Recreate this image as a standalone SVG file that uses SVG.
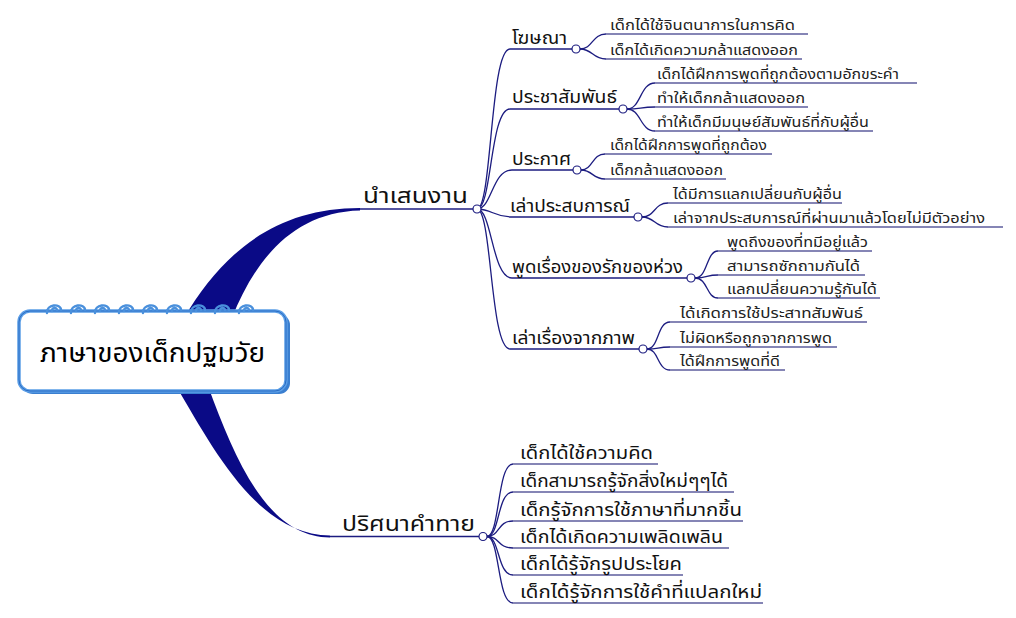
<svg xmlns="http://www.w3.org/2000/svg" width="1016" height="618" viewBox="0 0 1016 618">
<style>
text{font-family:Tahoma,"Noto Sans Thai","Noto Sans","DejaVu Sans",sans-serif;fill:#111}
.conn{fill:none;stroke:#1c1c80;stroke-width:1.3}
.leafline{fill:none;stroke:#5c5c9c;stroke-width:1.6}
.dot{fill:#fff;stroke:#1c1c80;stroke-width:1.2}
.thick{fill:#0a0a86}
.main{font-size:21px}
.sub{font-size:17px}
.leaf{font-size:14.5px;fill:#222}
.leaf2{font-size:18px;fill:#111}
.ring{fill:none;stroke:#4a90dc;stroke-width:2.4;stroke-linecap:round}
</style>
<rect width="1016" height="618" fill="#fff"/>
<g id="connectors">
<path class="thick" d="M184,318 C224,250 278,208 360,208 L360,210.5 C292,212 254,262 232,318 Z"/>
<path class="thick" d="M176,386 C214,450 258,535 330,535.5 L330,537.5 C268,537 236,462 208,386 Z"/>
<path class="conn" d="M360,209 L477,209"/>
<path class="conn" d="M330,536.5 L483,536.5"/>
<path class="conn" d="M477,209 C492,209 490,49 510,49 L572,49"/>
<path class="conn" d="M477,209 C492,209 490,109 510,109 L619,109"/>
<path class="conn" d="M477,209 C492,209 492,170 512,170 L573,170"/>
<path class="conn" d="M477,209 C492,209 494,217 512,217 L634,217"/>
<path class="conn" d="M477,209 C492,209 492,278 512,278 L687,278"/>
<path class="conn" d="M477,209 C492,209 490,349 510,349 L639,349"/>
<g>
<path class="conn" d="M580,49 C593,49 592,34 606,34"/>
<path class="leafline" d="M606,34 L808,34"/>
<path class="conn" d="M580,49 C593,49 592,59 606,59"/>
<path class="leafline" d="M606,59 L802,59"/>
<path class="conn" d="M627,109 C641,109 640,83 655,83"/>
<path class="leafline" d="M655,83 L917,83"/>
<path class="conn" d="M627,109 C641,109 640,107 655,107"/>
<path class="leafline" d="M655,107 L808,107"/>
<path class="conn" d="M627,109 C641,109 640,131 655,131"/>
<path class="leafline" d="M655,131 L873,131"/>
<path class="conn" d="M581,170 C593,170 592,154 605,154"/>
<path class="leafline" d="M605,154 L772,154"/>
<path class="conn" d="M581,170 C593,170 592,179 605,179"/>
<path class="leafline" d="M605,179 L726,179"/>
<path class="conn" d="M642,217 C655,217 654,203 668,203"/>
<path class="leafline" d="M668,203 L842,203"/>
<path class="conn" d="M642,217 C655,217 654,227 668,227"/>
<path class="leafline" d="M668,227 L1003,227"/>
<path class="conn" d="M695,278 C708,278 706,251 718,251"/>
<path class="leafline" d="M718,251 L872,251"/>
<path class="conn" d="M695,278 C708,278 706,275 718,275"/>
<path class="leafline" d="M718,275 L865,275"/>
<path class="conn" d="M695,278 C708,278 706,298 718,298"/>
<path class="leafline" d="M718,298 L880,298"/>
<path class="conn" d="M647,349 C659,349 657,322 670,322"/>
<path class="leafline" d="M670,322 L867,322"/>
<path class="conn" d="M647,349 C659,349 657,347 670,347"/>
<path class="leafline" d="M670,347 L837,347"/>
<path class="conn" d="M647,349 C659,349 657,370 670,370"/>
<path class="leafline" d="M670,370 L785,370"/>
<path class="conn" d="M487,536.5 C500,536.5 497,464 513,464"/>
<path class="leafline" d="M513,464 L658,464"/>
<path class="conn" d="M487,536.5 C500,536.5 497,492 513,492"/>
<path class="leafline" d="M513,492 L734,492"/>
<path class="conn" d="M487,536.5 C500,536.5 497,521 513,521"/>
<path class="leafline" d="M513,521 L743,521"/>
<path class="conn" d="M487,536.5 C500,536.5 497,548 513,548"/>
<path class="leafline" d="M513,548 L729,548"/>
<path class="conn" d="M487,536.5 C500,536.5 497,575 513,575"/>
<path class="leafline" d="M513,575 L683,575"/>
<path class="conn" d="M487,536.5 C500,536.5 497,603 513,603"/>
<path class="leafline" d="M513,603 L763,603"/>
</g>
<circle class="dot" cx="477" cy="209" r="4"/>
<circle class="dot" cx="483" cy="536.5" r="4"/>
<circle class="dot" cx="576" cy="49" r="4"/>
<circle class="dot" cx="623" cy="109" r="4"/>
<circle class="dot" cx="577" cy="170" r="4"/>
<circle class="dot" cx="638" cy="217" r="4"/>
<circle class="dot" cx="691" cy="278" r="4"/>
<circle class="dot" cx="643" cy="349" r="4"/>
</g>
<g id="root">
<rect x="22" y="314" width="268" height="80" rx="11" fill="#3a7fd0"/>
<rect x="19" y="311" width="267" height="80" rx="11" fill="#fff" stroke="#5b9ee6" stroke-width="3.5"/>
<rect x="19" y="311" width="267" height="80" rx="11" fill="none" stroke="#2a6cc4" stroke-width="1"/>
<g class="rings">
<path class="ring" d="M47,313 C46,304 61,303 61,310 M52,311 C52,307 57,307 57,310"/>
<path class="ring" d="M71,313 C70,304 85,303 85,310 M76,311 C76,307 81,307 81,310"/>
<path class="ring" d="M95,313 C94,304 109,303 109,310 M100,311 C100,307 105,307 105,310"/>
<path class="ring" d="M119,313 C118,304 133,303 133,310 M124,311 C124,307 129,307 129,310"/>
<path class="ring" d="M143,313 C142,304 157,303 157,310 M148,311 C148,307 153,307 153,310"/>
<path class="ring" d="M167,313 C166,304 181,303 181,310 M172,311 C172,307 177,307 177,310"/>
<path class="ring" d="M191,313 C190,304 205,303 205,310 M196,311 C196,307 201,307 201,310"/>
<path class="ring" d="M215,313 C214,304 229,303 229,310 M220,311 C220,307 225,307 225,310"/>
<path class="ring" d="M239,313 C238,304 253,303 253,310 M244,311 C244,307 249,307 249,310"/>
</g>
<text x="40" y="362" font-size="26" textLength="225" lengthAdjust="spacingAndGlyphs" style="fill:#000">ภาษาของเด็กปฐมวัย</text>
</g>
<g id="n-present"><text class="main" x="363" y="203" textLength="105" lengthAdjust="spacingAndGlyphs">นำเสนงาน</text></g>
<g id="n-riddle"><text class="main" x="342" y="531" textLength="133" lengthAdjust="spacingAndGlyphs">ปริศนาคำทาย</text></g>
<g id="n-ad"><text class="sub" x="512" y="44" textLength="55" lengthAdjust="spacingAndGlyphs">โฆษณา</text></g>
<g id="n-pr"><text class="sub" x="512" y="103" textLength="105" lengthAdjust="spacingAndGlyphs">ประชาสัมพันธ์</text></g>
<g id="n-announce"><text class="sub" x="512" y="165" textLength="59" lengthAdjust="spacingAndGlyphs">ประกาศ</text></g>
<g id="n-exp"><text class="sub" x="510" y="212" textLength="120" lengthAdjust="spacingAndGlyphs">เล่าประสบการณ์</text></g>
<g id="n-love"><text class="sub" x="512" y="273" textLength="171" lengthAdjust="spacingAndGlyphs">พูดเรื่องของรักของห่วง</text></g>
<g id="n-pic"><text class="sub" x="512" y="344" textLength="123" lengthAdjust="spacingAndGlyphs">เล่าเรื่องจากภาพ</text></g>
<g id="leaves">
<text class="leaf" x="610" y="30" textLength="185" lengthAdjust="spacingAndGlyphs">เด็กได้ใช้จินตนาการในการคิด</text>
<text class="leaf" x="610" y="55" textLength="188" lengthAdjust="spacingAndGlyphs">เด็กได้เกิดความกล้าแสดงออก</text>
<text class="leaf" x="657" y="79" textLength="242" lengthAdjust="spacingAndGlyphs">เด็กได้ฝึกการพูดที่ถูกต้องตามอักขระคำ</text>
<text class="leaf" x="657" y="103" textLength="148" lengthAdjust="spacingAndGlyphs">ทำให้เด็กกล้าแสดงออก</text>
<text class="leaf" x="657" y="127" textLength="212" lengthAdjust="spacingAndGlyphs">ทำให้เด็กมีมนุษย์สัมพันธ์ที่กับผู้อื่น</text>
<text class="leaf" x="610" y="150" textLength="157" lengthAdjust="spacingAndGlyphs">เด็กได้ฝึกการพูดที่ถูกต้อง</text>
<text class="leaf" x="610" y="175" textLength="113" lengthAdjust="spacingAndGlyphs">เด็กกล้าแสดงออก</text>
<text class="leaf" x="673" y="199" textLength="169" lengthAdjust="spacingAndGlyphs">ได้มีการแลกเปลี่ยนกับผู้อื่น</text>
<text class="leaf" x="673" y="223" textLength="312" lengthAdjust="spacingAndGlyphs">เล่าจากประสบการณ์ที่ผ่านมาแล้วโดยไม่มีตัวอย่าง</text>
<text class="leaf" x="727" y="247" textLength="141" lengthAdjust="spacingAndGlyphs">พูดถึงของที่ทมีอยู่แล้ว</text>
<text class="leaf" x="727" y="271" textLength="133" lengthAdjust="spacingAndGlyphs">สามารถซักถามกันได้</text>
<text class="leaf" x="727" y="294" textLength="150" lengthAdjust="spacingAndGlyphs">แลกเปลี่ยนความรู้กันได้</text>
<text class="leaf" x="680" y="318" textLength="183" lengthAdjust="spacingAndGlyphs">ได้เกิดการใช้ประสาทสัมพันธ์</text>
<text class="leaf" x="680" y="343" textLength="152" lengthAdjust="spacingAndGlyphs">ไม่ผิดหรือถูกจากการพูด</text>
<text class="leaf" x="680" y="366" textLength="100" lengthAdjust="spacingAndGlyphs">ได้ฝึกการพูดที่ดี</text>
<text class="leaf2" x="520" y="459" textLength="133" lengthAdjust="spacingAndGlyphs">เด็กได้ใช้ความคิด</text>
<text class="leaf2" x="520" y="487" textLength="208" lengthAdjust="spacingAndGlyphs">เด็กสามารถรู้จักสิ่งใหม่ๆๆได้</text>
<text class="leaf2" x="520" y="516" textLength="222" lengthAdjust="spacingAndGlyphs">เด็กรู้จักการใช้ภาษาที่มากชิ้น</text>
<text class="leaf2" x="520" y="543" textLength="203" lengthAdjust="spacingAndGlyphs">เด็กได้เกิดความเพลิดเพลิน</text>
<text class="leaf2" x="520" y="570" textLength="162" lengthAdjust="spacingAndGlyphs">เด็กได้รู้จักรูปประโยค</text>
<text class="leaf2" x="520" y="598" textLength="242" lengthAdjust="spacingAndGlyphs">เด็กได้รู้จักการใช้คำที่แปลกใหม่</text>
</g>
</svg>
